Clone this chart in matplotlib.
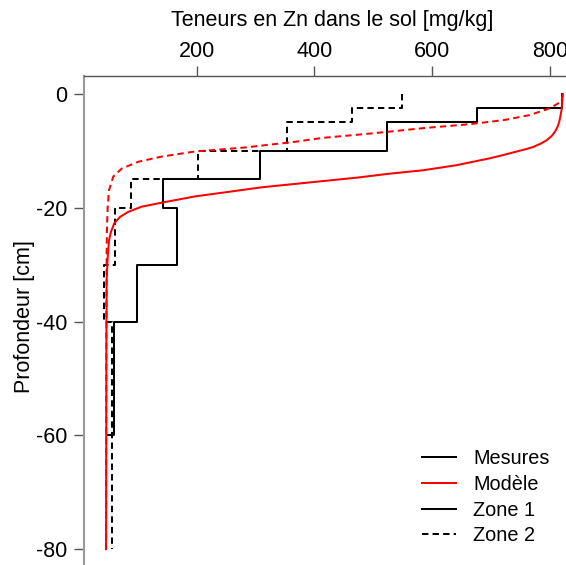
import matplotlib
matplotlib.use("Agg")
import matplotlib.pyplot as plt
from matplotlib.lines import Line2D

plt.rcParams["font.family"] = ["Liberation Sans", "DejaVu Sans"]
plt.rcParams["lines.scale_dashes"] = False
plt.rcParams["axes.unicode_minus"] = False

# measured Zn contents per layer (top of layer depth, value)
zone1_zn    = [820, 676, 523, 308, 143, 167, 99, 60, 50]
zone1_depth = [0, -2.5, -5, -10, -15, -20, -30, -40, -60]
zone2_zn    = [548, 464, 353, 203, 88, 62, 43, 56, 56]
zone2_depth = [0, -2.5, -5, -10, -15, -20, -30, -40, -80]

# model profiles
model1_zn    = [822, 821, 820, 818, 816, 813, 809, 803, 795, 785, 772, 759,
                744, 722, 698, 642, 585, 528, 472, 415, 367, 310, 254, 197,
                140.5, 106.5, 84, 69.7, 60, 54.4, 51, 48.8, 47, 46.5, 46]
model1_depth = [0, -1.5, -2.8, -3.9, -4.9, -5.8, -6.6, -7.4, -8.1, -8.7,
                -9.3, -9.7, -10.1, -10.7, -11.3, -12.5, -13.4, -14.0, -14.7,
                -15.3, -15.8, -16.4, -17.2, -18.0, -19.1, -19.8, -20.7, -21.6,
                -22.7, -24.2, -25.7, -28.6, -32.7, -45, -80]
model2_zn    = [822, 820, 800, 766, 721, 664, 585, 500, 415, 367, 282, 197,
                140.5, 101, 72.6, 58.3, 51, 48.8, 47.6, 47, 46.5, 46]
model2_depth = [0, -1.3, -2.5, -3.7, -4.6, -5.3, -6.0, -6.9, -7.7, -8.4, -9.4,
                -10.1, -11.0, -11.9, -13.1, -14.5, -16.9, -19.8, -23.3, -27.4,
                -45, -80]

LW = 1.45
DASH = (0, (4.6, 3.0))
FS = 15.5

fig = plt.figure(figsize=(5.66, 5.65), dpi=100)
ax = fig.add_axes([84 / 566, -2.4 / 565, 497 / 566, 491.6 / 565])

ax.plot(zone1_zn, zone1_depth, color="black", lw=LW, drawstyle="steps-pre")
ax.plot(zone2_zn, zone2_depth, color="black", lw=LW, drawstyle="steps-pre",
        linestyle=DASH)
ax.plot(model1_zn, model1_depth, color="red", lw=LW)
ax.plot(model2_zn, model2_depth, color="red", lw=LW, linestyle=DASH)

ax.set_xlim(8.5, 853)
ax.set_ylim(-83.2, 3.2)

ax.xaxis.tick_top()
ax.xaxis.set_label_position("top")
ax.set_xticks([200, 400, 600, 800])
ax.set_yticks([0, -20, -40, -60, -80])
ax.tick_params(axis="both", length=7, width=1, color="#555555",
               labelsize=FS, direction="out")
ax.tick_params(axis="x", pad=3)
ax.tick_params(axis="y", pad=5)
ax.set_xlabel("Teneurs en Zn dans le sol [mg/kg]", fontsize=FS, labelpad=11)
ax.set_ylabel("Profondeur [cm]", fontsize=FS, va="center")
ax.yaxis.set_label_coords(-0.119, 0.511)

ax.spines["top"].set_color("#555555")
ax.spines["top"].set_linewidth(1.0)
ax.spines["left"].set_color("#999999")
ax.spines["left"].set_linewidth(1.5)
ax.spines["right"].set_visible(False)
ax.spines["bottom"].set_visible(False)

handles = [Line2D([], [], color="black", lw=LW),
           Line2D([], [], color="red", lw=LW),
           Line2D([], [], color="black", lw=LW),
           Line2D([], [], color="black", lw=LW, linestyle=DASH)]
labels = ["Mesures", "Modèle", "Zone 1", "Zone 2"]
fig.legend(handles, labels, loc="upper left",
           bbox_to_anchor=(421.7 / 566, 1 - 449 / 565), frameon=False,
           fontsize=14.3, handlelength=1.75, handletextpad=0.85,
           labelspacing=0.34, borderpad=0, borderaxespad=0)

fig.savefig("out.png", dpi=100)
